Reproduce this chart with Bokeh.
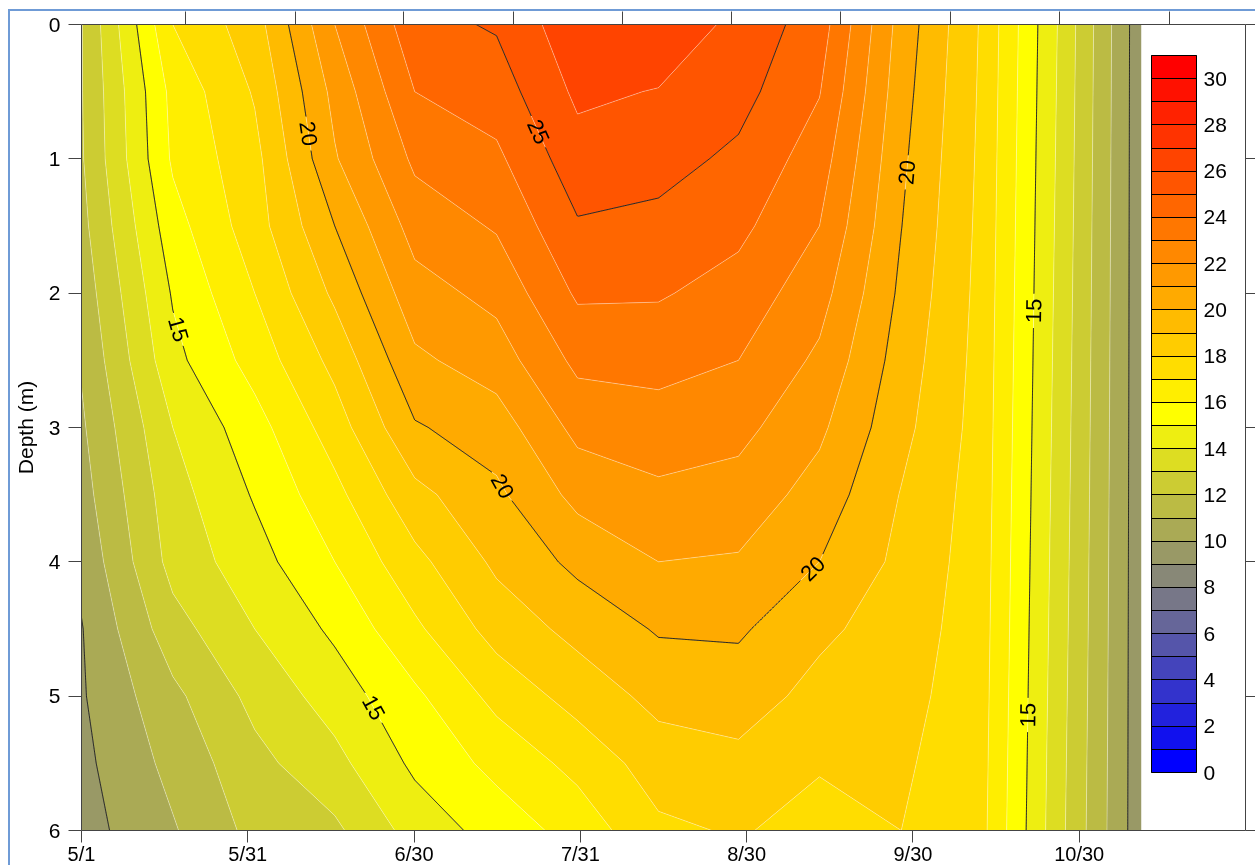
import numpy as np
import contourpy
from bokeh.plotting import figure
from bokeh.models import Range1d, LinearAxis, FixedTicker, ColorBar, LinearColorMapper
from bokeh.core.properties import value
from bokeh.embed import file_html
from bokeh.resources import INLINE

FONT = "Liberation Sans"

# ---------------- data ----------------
# sampling dates, in months after 5/1 (axis ticks are one per month)
sample_x = [0.0, 0.549, 1.042, 1.523, 2.004, 2.496, 2.983, 3.470, 3.951, 4.438, 4.930, 5.411, 5.892, 6.373]
depths = [0.0, 0.5, 1.0, 1.5, 2.0, 2.5, 3.0, 3.5, 4.0, 4.5, 5.0, 5.5, 6.0]

# water temperature profiles (deg C), surface -> 6 m
temp_0501 = [11.95, 11.95, 11.9, 11.7, 11.4, 11.1, 10.85, 10.6, 10.25, 9.95, 9.9, 9.75, 9.6]
temp_0517 = [17.0, 16.3, 16.15, 15.6, 15.1, 14.7, 14.0, 13.6, 13.35, 12.6, 11.75, 11.3, 10.9]
temp_0601 = [18.55, 18.1, 17.7, 17.55, 17.0, 16.4, 15.6, 15.1, 14.6, 14.0, 13.3, 12.7, 12.3]
temp_0616 = [22.0, 21.3, 20.9, 20.0, 19.2, 18.3, 17.5, 16.7, 16.0, 15.2, 14.45, 13.7, 12.8]
temp_0701 = [24.7, 24.0, 23.2, 22.4, 21.6, 20.8, 19.9, 18.7, 17.7, 16.8, 15.8, 15.2, 14.4]
temp_0716 = [25.1, 24.5, 23.8, 23.1, 22.3, 21.5, 20.5, 19.8, 19.2, 18.4, 17.3, 16.3, 15.4]
temp_0731 = [26.7, 26.2, 25.6, 24.9, 24.15, 23.25, 22.3, 21.3, 20.25, 19.3, 18.4, 17.3, 16.4]
temp_0815 = [26.8, 25.95, 25.35, 24.75, 24.1, 23.35, 22.55, 21.8, 21.0, 20.1, 19.3, 18.5, 17.8]
temp_0830 = [25.7, 25.35, 24.8, 24.25, 23.6, 23.0, 22.3, 21.6, 20.9, 20.15, 19.45, 18.75, 18.1]
temp_0914 = [24.5, 24.05, 23.5, 23.0, 22.4, 21.8, 21.2, 20.6, 20.0, 19.2, 18.7, 18.1, 17.6]
temp_0929 = [20.6, 20.4, 20.2, 20.02, 19.8, 19.55, 19.3, 18.95, 18.75, 18.55, 18.35, 18.15, 18.0]
temp_1013 = [17.9, 17.85, 17.8, 17.75, 17.7, 17.65, 17.6, 17.55, 17.5, 17.45, 17.4, 17.35, 17.3]
temp_1028 = [13.8, 13.75, 13.7, 13.65, 13.6, 13.55, 13.5, 13.45, 13.4, 13.35, 13.3, 13.25, 13.2]
temp_1112 = [9.35, 9.35, 9.35, 9.35, 9.35, 9.35, 9.35, 9.35, 9.35, 9.35, 9.35, 9.35, 9.35]

profiles = [temp_0501, temp_0517, temp_0601, temp_0616, temp_0701, temp_0716, temp_0731,
            temp_0815, temp_0830, temp_0914, temp_0929, temp_1013, temp_1028, temp_1112]

x_tick_pos = [0, 1, 2, 3, 4, 5, 6]
x_tick_labels = ["5/1", "5/31", "6/30", "7/31", "8/30", "9/30", "10/30"]
depth_ticks = [0, 1, 2, 3, 4, 5, 6]
top_ticks = [0.623, 1.284, 1.939, 2.596, 3.253, 3.910, 4.565, 5.224, 5.883, 6.540]

fill_levels = list(range(0, 32))
line_levels = [10, 15, 20, 25]
cbar_major = [0, 2, 4, 6, 8, 10, 12, 14, 16, 18, 20, 22, 24, 26, 28, 30]
cbar_minor = [1, 3, 5, 7, 9, 11, 13, 15, 17, 19, 21, 23, 25, 27, 29, 31]
palette = ["#0000ff", "#1111ee", "#2222dd", "#3333cc", "#4444bb", "#5555aa", "#666699",
           "#777788", "#888877", "#999966", "#aaaa55", "#bbbb44", "#cccc33", "#dddd22",
           "#eeee11", "#ffff00", "#ffee00", "#ffdd00", "#ffcc00", "#ffbb00", "#ffaa00",
           "#ff9900", "#ff8800", "#ff7700", "#ff6600", "#ff5500", "#ff4400", "#ff3300",
           "#ff2200", "#ff1100", "#ff0000"]

# contour-label anchors: (level, x, depth)
label_spots = [(20, 1.367, 0.81), (15, 0.556, 2.28), (25, 2.725, 0.81), (20, 2.556, 3.42),
               (15, 1.763, 5.08), (20, 4.378, 4.03), (20, 4.966, 1.10), (15, 5.742, 2.13),
               (15, 5.70, 5.14)]

# ---------------- figure ----------------
FRAME_W, FRAME_H = 1165, 806
X_END, D_END = 7.0, 6.0
SX, SY = FRAME_W / X_END, FRAME_H / D_END

p = figure(width=1247, height=856, x_range=Range1d(0, X_END), y_range=Range1d(D_END, 0),
           output_backend="svg", toolbar_location=None,
           min_border_left=70, min_border_right=12, min_border_top=13, min_border_bottom=37)
p.styles = {"position": "fixed", "left": "8px", "top": "9px",
            "border-left": "2px solid #6f9bd6", "border-top": "2px solid #6f9bd6"}
p.grid.visible = False
p.outline_line_color = None
p.background_fill_color = "white"
p.border_fill_color = "white"

Z = np.array(profiles).T  # shape (ndepth, nx)
xs_arr = np.array(sample_x)
ys_arr = np.array(depths)

p.contour(xs_arr, ys_arr, Z, fill_levels, fill_color=palette,
          line_color="white", line_alpha=0.35, line_width=1)

# black contour lines with gaps for labels
gen = contourpy.contour_generator(x=xs_arr, y=ys_arr, z=Z, line_type="Separate")


def densify(sc):
    seg = np.diff(sc, axis=0)
    L = np.hypot(seg[:, 0], seg[:, 1])
    s = np.concatenate([[0.0], np.cumsum(L)])
    n = max(int(s[-1] / 0.75) + 2, 2)
    t = np.linspace(0, s[-1], n)
    return np.column_stack([np.interp(t, s, sc[:, 0]), np.interp(t, s, sc[:, 1])])


line_xs, line_ys = [], []
lab_x, lab_y, lab_t, lab_a = [], [], [], []
GAP = 17.0
for lev in line_levels:
    dense = []
    for ln in gen.lines(lev):
        if len(ln) < 2:
            continue
        sc = np.column_stack([ln[:, 0] * SX, ln[:, 1] * SY])
        dense.append(densify(sc))
    masks = [np.ones(len(d), dtype=bool) for d in dense]
    for (llev, ax, ad) in label_spots:
        if llev != lev or not dense:
            continue
        a = np.array([ax * SX, ad * SY])
        best = None
        for j, d in enumerate(dense):
            dist = np.hypot(d[:, 0] - a[0], d[:, 1] - a[1])
            i = int(np.argmin(dist))
            if best is None or dist[i] < best[0]:
                best = (dist[i], j, i)
        _, j, i = best
        d = dense[j]
        i0, i1 = max(i - 8, 0), min(i + 8, len(d) - 1)
        dx, dy = d[i1, 0] - d[i0, 0], d[i1, 1] - d[i0, 1]
        ang = np.arctan2(-dy, dx)
        if ang > np.pi / 2:
            ang -= np.pi
        if ang < -np.pi / 2:
            ang += np.pi
        c = d[i]
        for k, dd in enumerate(dense):
            masks[k] &= np.hypot(dd[:, 0] - c[0], dd[:, 1] - c[1]) > GAP
        lab_x.append(c[0] / SX)
        lab_y.append(c[1] / SY)
        lab_t.append(str(lev))
        lab_a.append(ang)
    for d, m in zip(dense, masks):
        idx = np.where(m)[0]
        if len(idx) == 0:
            continue
        runs = np.split(idx, np.where(np.diff(idx) > 1)[0] + 1)
        for r in runs:
            if len(r) < 2:
                continue
            line_xs.append(list(d[r, 0] / SX))
            line_ys.append(list(d[r, 1] / SY))

p.multi_line(line_xs, line_ys, line_color="black", line_width=1)
p.text(x=lab_x, y=lab_y, text=lab_t, angle=lab_a, text_font=value(FONT),
       text_font_size="22px", text_align="center", text_baseline="middle", text_color="black")

# ---------------- axes ----------------
AX_COL = "#444444"
xa = p.xaxis[0]
xa.ticker = FixedTicker(ticks=x_tick_pos)
xa.major_label_overrides = {t: l for t, l in zip(x_tick_pos, x_tick_labels)}
xa.major_tick_out = 12
xa.major_tick_in = 0
xa.minor_tick_out = 0
xa.minor_tick_in = 0
xa.major_label_standoff = 0
xa.major_label_text_font = FONT
xa.major_label_text_font_size = "20px"
xa.major_label_text_color = "black"
xa.axis_line_color = AX_COL
xa.major_tick_line_color = AX_COL

ya = p.yaxis[0]
ya.ticker = FixedTicker(ticks=depth_ticks)
ya.major_tick_out = 13
ya.major_tick_in = 0
ya.minor_tick_out = 0
ya.minor_tick_in = 0
ya.major_label_standoff = 8
ya.major_label_text_font = FONT
ya.major_label_text_font_size = "21px"
ya.major_label_text_color = "black"
ya.axis_line_color = AX_COL
ya.major_tick_line_color = AX_COL
ya.axis_label = "Depth (m)"
ya.axis_label_text_font = FONT
ya.axis_label_text_font_size = "21px"
ya.axis_label_text_font_style = "normal"
ya.axis_label_text_color = "black"
ya.axis_label_standoff = 9

top = LinearAxis(ticker=FixedTicker(ticks=top_ticks), major_tick_out=13, major_tick_in=0,
                 minor_tick_out=0, minor_tick_in=0, major_label_text_font_size="0px",
                 major_label_text_color=None, major_label_standoff=0,
                 axis_line_color=AX_COL, major_tick_line_color=AX_COL)
p.add_layout(top, "above")

right = LinearAxis(ticker=FixedTicker(ticks=depth_ticks), major_tick_out=12, major_tick_in=0,
                   minor_tick_out=0, minor_tick_in=0, major_label_text_font_size="0px",
                   major_label_text_color=None, major_label_standoff=0,
                   axis_line_color=AX_COL, major_tick_line_color=AX_COL)
p.add_layout(right, "right")

# ---------------- color bar ----------------
mapper = LinearColorMapper(palette=palette, low=fill_levels[0], high=fill_levels[-1])
cb = ColorBar(color_mapper=mapper, ticker=FixedTicker(ticks=cbar_major, minor_ticks=cbar_minor),
              width=45, height=717, location=(1070, 58),
              padding=0, margin=0, bar_line_color="black", bar_line_width=1,
              major_tick_line_color="black", major_tick_in=45, major_tick_out=0,
              minor_tick_line_color="black", minor_tick_in=45, minor_tick_out=0,
              label_standoff=7,
              major_label_text_font=FONT, major_label_text_font_size="21px",
              major_label_text_color="black",
              background_fill_alpha=0, border_line_color=None)
p.add_layout(cb)

open("out.html", "w").write(file_html(p, INLINE))
